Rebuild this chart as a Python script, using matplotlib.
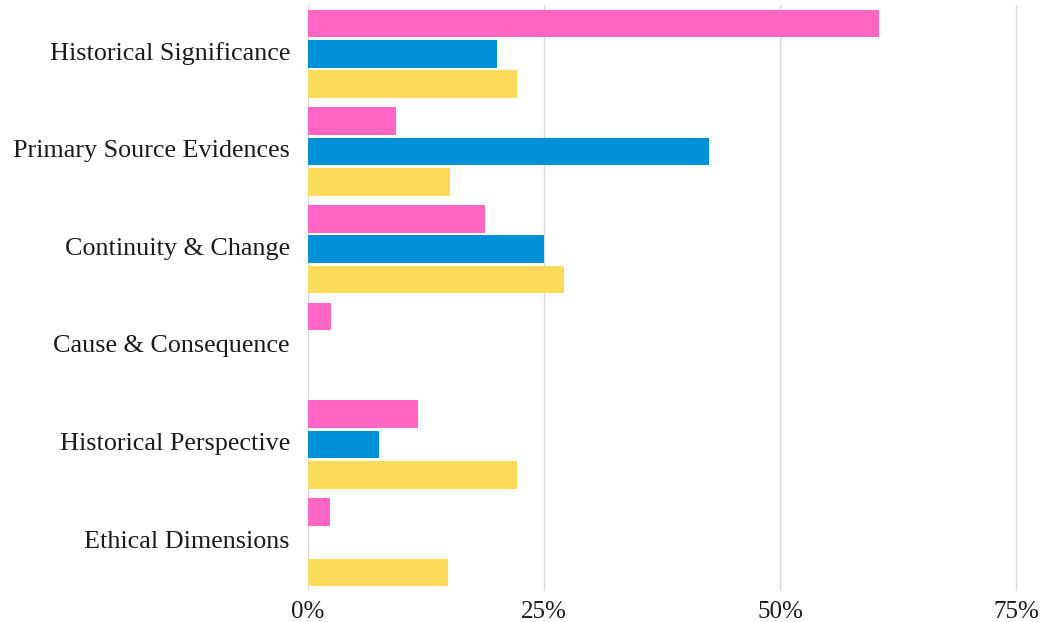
import matplotlib
matplotlib.use("Agg")
import matplotlib.pyplot as plt
import matplotlib.transforms as mtransforms
import numpy as np

categories = ["Historical Significance", "Primary Source Evidences", "Continuity & Change",
              "Cause & Consequence", "Historical Perspective", "Ethical Dimensions"]
pink_vals = [60.5, 9.3, 18.7, 2.4, 11.6, 2.3]
blue_vals = [20.0, 42.5, 25.0, 0.0, 7.5, 0.0]
yellow_vals = [22.1, 15.0, 27.1, 0.0, 22.1, 14.8]
xticks = [0, 25, 50, 75]
xtick_labels = ["0%", "25%", "50%", "75%"]

colors = ["#FF66C4", "#0090D8", "#FCDB5B"]

plt.rcParams['font.family'] = ['Liberation Serif', 'DejaVu Serif']

fig = plt.figure(figsize=(10.44, 6.22), dpi=100)
top_px, bot_px = 5, 591
ax = fig.add_axes([308/1044, 1 - bot_px/622, (1040-308)/1044, (bot_px-top_px)/622])

y = np.arange(len(categories))
slot = 0.311
h = 0.282
for i, (vals, c) in enumerate(zip([pink_vals, blue_vals, yellow_vals], colors)):
    ax.barh(y + (i - 1) * slot, vals, height=h, color=c, zorder=3)

ax.set_ylim(len(categories) - 0.5, -0.5)
ax.set_xlim(0, 77.5)
ax.set_yticks(y)
ax.set_yticklabels(categories, fontsize=18.8, color="#1a1a1a")
ax.set_xticks(xticks)
ax.set_xticklabels(xtick_labels, fontsize=18, color="#1a1a1a")
ax.tick_params(axis='both', length=0)
ax.tick_params(axis='y', pad=13)
ax.tick_params(axis='x', pad=7)
offset = mtransforms.ScaledTranslation(0, 3/100, fig.dpi_scale_trans)
for lbl in ax.get_yticklabels():
    lbl.set_transform(lbl.get_transform() + offset)
for s in ax.spines.values():
    s.set_visible(False)
ax.grid(axis='x', color="#d9d9d9", linewidth=1.0, zorder=0)
ax.grid(axis='y', visible=False)

fig.savefig("out.png", dpi=100)
